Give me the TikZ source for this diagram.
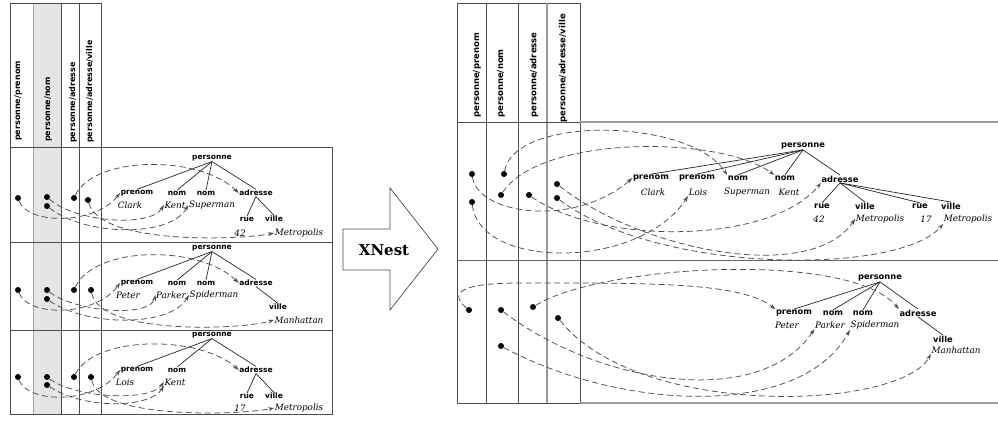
\documentclass[tikz,border=0pt]{standalone}
\usepackage{fontspec}
\newfontfamily\lblfont{DejaVu Sans}
\newfontfamily\valfont{DejaVu Serif}
\usetikzlibrary{arrows.meta}
\begin{document}
\begin{tikzpicture}[x=1pt,y=-1pt,
  lbl/.style={font=\lblfont\bfseries\fontsize{7.5}{8}\selectfont, inner sep=0.5pt},
  rlbl/.style={font=\lblfont\bfseries\fontsize{8.3}{9}\selectfont, inner sep=0.5pt},
  val/.style={font=\valfont\itshape\fontsize{8.8}{9}\selectfont, inner sep=0.5pt},
  hdr/.style={rotate=90, anchor=west, inner sep=0pt, font=\lblfont\bfseries\fontsize{8}{9}\selectfont},
  rhdr/.style={hdr, font=\lblfont\bfseries\fontsize{8.5}{9}\selectfont},
  dot/.style={circle, fill=black, inner sep=0pt, minimum size=6pt},
  dsh/.style={draw=black!70, line width=0.75pt, dash pattern=on 6pt off 3.5pt, -{Stealth[length=6pt,width=4pt]}},
  tedge/.style={draw=black!85, line width=0.7pt},
  frame/.style={draw=black!70, line width=0.7pt},
  gframe/.style={draw=black!40, line width=1.4pt}]
\useasboundingbox (0,0) rectangle (998,424);

% ---------------- left panel frame ----------------
\fill[black!10] (33,3) rectangle (61,414);
\draw[draw=black!35, line width=0.8pt] (33,3) -- (33,414);
\draw[frame] (10,3) -- (101,3);
\draw[frame] (10,3) -- (10,414) -- (332,414) -- (332,147) -- (10,147);
\draw[frame] (10,242) -- (332,242);
\draw[frame] (10,330) -- (332,330);
\draw[frame] (61,3) -- (61,414);
\draw[frame] (79,3) -- (79,414);
\draw[frame, line width=1pt] (101,3) -- (101,414);

\node[hdr] (h1) at (18,141) {personne/prenom};
\node[hdr] (h2) at (48,142) {personne/nom};
\node[hdr] (h3) at (73,143) {personne/adresse};
\node[hdr] (h4) at (90,143) {personne/adresse/ville};

% ---------------- left row 1 ----------------
\node[lbl] (L1p) at (212,158) {personne};
\node[lbl] (L1a) at (137,193) {prenom};
\node[lbl] (L1b) at (177,193) {nom};
\node[lbl] (L1c) at (206,193) {nom};
\node[lbl] (L1d) at (256,193) {adresse};
\node[lbl] (L1e) at (247,219) {rue};
\node[lbl] (L1f) at (274,219) {ville};
\node[val] (L1v1) at (130,205) {Clark};
\node[val] (L1v2) at (175,205) {Kent};
\node[val] (L1v3) at (212,205) {Superman};
\node[val] (L1v4) at (240,233) {42};
\node[val] (L1v5) at (299,233) {Metropolis};
\foreach \c in {L1a,L1b,L1c,L1d} \draw[tedge] (L1p.south) -- (\c.north);
\foreach \c in {L1e,L1f} \draw[tedge] (L1d.south) -- (\c.north);

\node[dot] (d11) at (18,198) {};
\node[dot] (d12) at (47,197) {};
\node[dot] (d13) at (47,206) {};
\node[dot] (d14) at (74,198) {};
\node[dot] (d15) at (88,200) {};
\draw[dsh] (d11) .. controls (28,225) and (95,225) .. (L1a.west);
\draw[dsh] (d12) .. controls (75,222) and (150,228) .. (L1v2.west);
\draw[dsh] (d13) .. controls (85,236) and (170,238) .. (L1v3.west);
\draw[dsh] (d14) .. controls (95,155) and (200,155) .. (L1d.west);
\draw[dsh] (d15) .. controls (100,245) and (240,240) .. (L1v5.west);

% ---------------- left row 2 ----------------
\node[lbl] (L2p) at (212,248) {personne};
\node[lbl] (L2a) at (137,283) {prenom};
\node[lbl] (L2b) at (177,283) {nom};
\node[lbl] (L2c) at (206,283) {nom};
\node[lbl] (L2d) at (256,283) {adresse};
\node[lbl] (L2e) at (278,307) {ville};
\node[val] (L2v1) at (128,295) {Peter};
\node[val] (L2v2) at (171,295) {Parker};
\node[val] (L2v3) at (214,295) {Spiderman};
\node[val] (L2v5) at (299,320) {Manhattan};
\foreach \c in {L2a,L2b,L2c,L2d} \draw[tedge] (L2p.south) -- (\c.north);
\draw[tedge] (L2d.south) -- (L2e.north);

\node[dot] (d21) at (18,290) {};
\node[dot] (d22) at (47,290) {};
\node[dot] (d23) at (47,299) {};
\node[dot] (d24) at (74,290) {};
\node[dot] (d25) at (91,290) {};
\draw[dsh] (d21) .. controls (28,317) and (95,317) .. (L2a.west);
\draw[dsh] (d22) .. controls (75,312) and (150,318) .. (L2v2.west);
\draw[dsh] (d23) .. controls (85,326) and (170,328) .. (L2v3.west);
\draw[dsh] (d24) .. controls (95,245) and (200,245) .. (L2d.west);
\draw[dsh] (d25) .. controls (100,335) and (240,330) .. (L2v5.west);

% ---------------- left row 3 ----------------
\node[lbl] (L3p) at (212,335) {personne};
\node[lbl] (L3a) at (137,370) {prenom};
\node[lbl] (L3b) at (177,370) {nom};
\node[lbl] (L3d) at (256,370) {adresse};
\node[lbl] (L3e) at (247,396) {rue};
\node[lbl] (L3f) at (274,396) {ville};
\node[val] (L3v1) at (125,382) {Lois};
\node[val] (L3v2) at (175,382) {Kent};
\node[val] (L3v4) at (240,408) {17};
\node[val] (L3v5) at (299,408) {Metropolis};
\foreach \c in {L3a,L3b,L3d} \draw[tedge] (L3p.south) -- (\c.north);
\foreach \c in {L3e,L3f} \draw[tedge] (L3d.south) -- (\c.north);

\node[dot] (d31) at (18,377) {};
\node[dot] (d32) at (47,377) {};
\node[dot] (d33) at (47,385) {};
\node[dot] (d34) at (74,377) {};
\node[dot] (d35) at (91,377) {};
\draw[dsh] (d31) .. controls (28,404) and (95,404) .. (L3a.west);
\draw[dsh] (d32) .. controls (75,398) and (150,402) .. (L3v2.west);
\draw[dsh] (d33) .. controls (85,410) and (150,408) .. (L3v2.south west);
\draw[dsh] (d34) .. controls (95,335) and (200,335) .. (L3d.west);
\draw[dsh] (d35) .. controls (100,420) and (240,415) .. (L3v5.west);

% ---------------- XNest arrow ----------------
\draw[draw=black!70, line width=0.7pt] (343,229) -- (390,229) -- (390,188) -- (438,249)
  -- (390,310) -- (390,270) -- (343,270) -- cycle;
\node[font=\valfont\bfseries\fontsize{15}{16}\selectfont] (xn) at (384,250) {XNest};

% ---------------- right panel frame ----------------
\draw[frame] (457,3) -- (580,3);
\draw[frame] (457,3) -- (457,403);
\draw[frame] (486,3) -- (486,403);
\draw[frame] (518,3) -- (518,403);
\draw[gframe] (547,3) -- (547,403);
\draw[frame] (580,3) -- (580,403);
\draw[frame] (457,122) -- (580,122);
\draw[gframe] (580,122) -- (998,122);
\draw[draw=black!60, line width=0.9pt] (457,260) -- (998,260);
\draw[frame] (457,403) -- (580,403);
\draw[gframe] (580,403) -- (998,403);

\node[rhdr] (rh1) at (477,118) {personne/prenom};
\node[rhdr] (rh2) at (501,118) {personne/nom};
\node[rhdr] (rh3) at (534,118) {personne/adresse};
\node[rhdr] (rh4) at (563,123) {personne/adresse/ville};

% ---------------- right row 1 ----------------
\node[rlbl] (R1p) at (803,146) {personne};
\node[rlbl] (R1a) at (651,178) {prenom};
\node[rlbl] (R1b) at (697,178) {prenom};
\node[rlbl] (R1c) at (738,178) {nom};
\node[rlbl] (R1d) at (785,178) {nom};
\node[rlbl] (R1e) at (840,179) {adresse};
\node[rlbl] (R1f) at (822,206) {rue};
\node[rlbl] (R1g) at (865,206) {ville};
\node[rlbl] (R1h) at (920,206) {rue};
\node[rlbl] (R1i) at (951,206) {ville};
\node[val] (R1v1) at (653,192) {Clark};
\node[val] (R1v2) at (698,192) {Lois};
\node[val] (R1v3) at (747,192) {Superman};
\node[val] (R1v4) at (789,192) {Kent};
\node[val] (R1v5) at (819,219) {42};
\node[val] (R1v6) at (880,219) {Metropolis};
\node[val] (R1v7) at (926,219) {17};
\node[val] (R1v8) at (968,219) {Metropolis};
\foreach \c in {R1a,R1b,R1c,R1d,R1e} \draw[tedge] (R1p.south) -- (\c.north);
\foreach \c in {R1f,R1g,R1h,R1i} \draw[tedge] (R1e.south) -- (\c.north);

\node[dot] (rd1) at (472,174) {};
\node[dot] (rd2) at (472,202) {};
\node[dot] (rd3) at (504,174) {};
\node[dot] (rd4) at (501,195) {};
\node[dot] (rd5) at (529,195) {};
\node[dot] (rd6) at (557,184) {};
\node[dot] (rd7) at (557,198) {};
\draw[dsh] (rd1) .. controls (478,215) and (575,228) .. (R1a.west);
\draw[dsh] (rd2) .. controls (480,270) and (640,270) .. (R1v2.south west);
\draw[dsh] (rd3) .. controls (515,115) and (690,118) .. (R1c.north west);
\draw[dsh] (rd4) .. controls (540,135) and (720,135) .. (R1d.north west);
\draw[dsh] (rd5) .. controls (600,245) and (770,245) .. (R1e.south west);
\draw[dsh] (rd6) .. controls (640,250) and (810,285) .. (R1v6.west);
\draw[dsh] (rd7) .. controls (660,275) and (900,275) .. (R1v8.south west);

% ---------------- right row 2 ----------------
\node[rlbl] (R2p) at (880,278) {personne};
\node[rlbl] (R2a) at (794,313) {prenom};
\node[rlbl] (R2b) at (833,313) {nom};
\node[rlbl] (R2c) at (863,313) {nom};
\node[rlbl] (R2d) at (918,313) {adresse};
\node[rlbl] (R2e) at (943,339) {ville};
\node[val] (R2v1) at (787,325) {Peter};
\node[val] (R2v2) at (830,325) {Parker};
\node[val] (R2v3) at (875,325) {Spiderman};
\node[val] (R2v4) at (956,350) {Manhattan};
\foreach \c in {R2a,R2b,R2c,R2d} \draw[tedge] (R2p.south) -- (\c.north);
\draw[tedge] (R2d.south) -- (R2e.north);

\node[dot] (sd1) at (469,310) {};
\node[dot] (sd2) at (501,310) {};
\node[dot] (sd3) at (501,346) {};
\node[dot] (sd4) at (533,307) {};
\node[dot] (sd5) at (558,318) {};
\coordinate (sdk) at (520,283);
\draw[dsh] (sd1) .. controls (445,290) and (470,283) .. (sdk) .. controls (650,283) and (740,282) .. (R2a.north west);
\draw[dsh] (sd4) .. controls (600,265) and (850,250) .. (R2d.north west);
\draw[dsh] (sd2) .. controls (600,385) and (760,410) .. (R2v2.south west);
\draw[dsh] (sd3) .. controls (620,410) and (800,420) .. (R2v3.south west);
\draw[dsh] (sd5) .. controls (640,420) and (900,410) .. (R2v4.south west);
\end{tikzpicture}
\end{document}
